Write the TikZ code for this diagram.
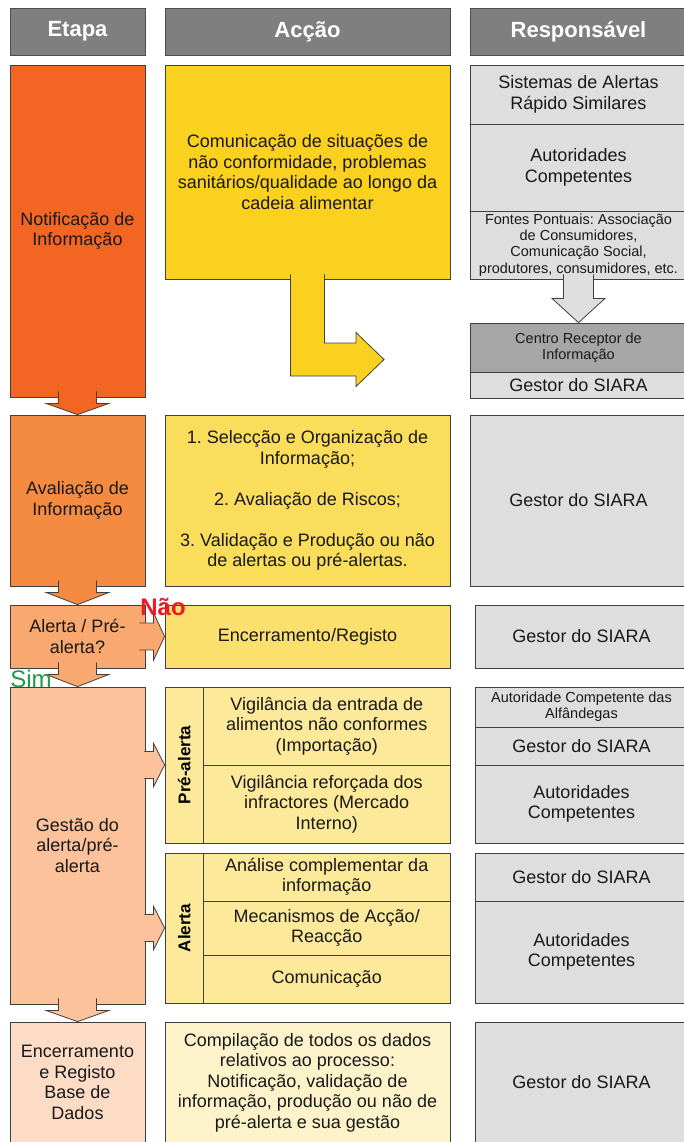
\documentclass[tikz,border=0pt]{standalone}
\usepackage{fontspec}
\setmainfont{Liberation Sans}
\usetikzlibrary{calc}
\frenchspacing

\definecolor{headgray}{HTML}{7F7F7F}
\definecolor{respgray}{HTML}{DEDEDE}
\definecolor{cdark}{HTML}{A6A6A6}
\definecolor{cnotif}{HTML}{F26522}
\definecolor{caval}{HTML}{F58B40}
\definecolor{calerta}{HTML}{F9A870}
\definecolor{cgestao}{HTML}{FBC29B}
\definecolor{cencerr}{HTML}{FDDCC6}
\definecolor{cacc1}{HTML}{FAD11E}
\definecolor{cacc2}{HTML}{FADD5A}
\definecolor{cacc3}{HTML}{FBE06E}
\definecolor{cgrp}{HTML}{FCE99A}
\definecolor{cacc5}{HTML}{FDF3CB}
\definecolor{cnao}{HTML}{ED1C24}
\definecolor{csim}{HTML}{1E9A48}

\begin{document}
\begin{tikzpicture}[x=1pt, y=-1pt,
    cell/.style={draw=black!75, line width=0.8pt, inner sep=2pt, align=center,
        font=\fontsize{18}{20.5}\selectfont\frenchspacing, text=black!90},
    smalltext/.style={font=\fontsize{14.5}{16.3}\selectfont\frenchspacing},
    header/.style={cell, fill=headgray, draw=black!70, text=white,
        font=\fontsize{22}{24}\selectfont\bfseries, minimum height=47pt},
    etapa/.style={cell, minimum width=135pt},
    accao/.style={cell, minimum width=285pt},
    sub/.style={cell, minimum width=246.5pt},
    resp/.style={cell, fill=respgray, minimum width=217pt},
    respb/.style={cell, fill=respgray, minimum width=213pt},
    grouplabel/.style={rotate=90, font=\fontsize{17}{19}\selectfont\bfseries},
    blockarrow/.style={draw=black!75, line width=0.8pt, line join=miter}]

    % Fix the page size
    \useasboundingbox (0,0) rectangle (683,1142);

    % Draw headers
    \node[header, minimum width=135pt] (hetapa) at (77.5,31.5) {Etapa};
    \node[header, minimum width=285pt] (haccao) at (307.5,31.5) {Acção};
    \node[header, minimum width=217pt] (hresp) at (578.5,31.5) {Responsável};

    % Draw stages
    \node[etapa, fill=cnotif, minimum height=332pt] (notif) at (77.5,231) {Notificação de\\Informação};
    \node[etapa, fill=caval, minimum height=171pt] (aval) at (77.5,500.5) {Avaliação de\\Informação};
    \node[etapa, fill=calerta, minimum height=63pt] (alerta) at (77.5,636.5) {Alerta / Pré-\\alerta?};
    \node[etapa, fill=cgestao, minimum height=317pt] (gestao) at (77.5,845.5) {Gestão do\\alerta/pré-\\alerta};
    \node[etapa, fill=cencerr, minimum height=121pt] (encerr) at (77.5,1082.5) {Encerramento\\e Registo\\Base de\\Dados};

    % Draw actions
    \node[accao, fill=cacc1, minimum height=214pt] (acc1) at (307.5,172)
        {Comunicação de situações de\\não conformidade, problemas\\sanitários/qualidade ao longo da\\cadeia alimentar};
    \node[accao, fill=cacc2, minimum height=171pt] (acc2) at (307.5,500.5)
        {1. Selecção e Organização de\\Informação;\\[20.5pt]2. Avaliação de Riscos;\\[20.5pt]3. Validação e Produção ou não\\de alertas ou pré-alertas.};
    \node[accao, fill=cacc3, minimum height=63pt] (acc3) at (307.5,636.5) {Encerramento/Registo};
    \node[accao, fill=cgrp, minimum height=156pt] (pregrp) at (307.5,765) {};
    \node[accao, fill=cgrp, minimum height=150pt] (alegrp) at (307.5,928) {};
    \node[accao, fill=cacc5, minimum height=121pt] (acc5) at (307.5,1082.5)
        {Compilação de todos os dados\\relativos ao processo:\\Notificação, validação de\\informação, produção ou não de\\pré-alerta e sua gestão};

    % Draw pre-alert and alert rows
    \node[sub, minimum height=78pt] (pre1) at (326.75,726) {Vigilância da entrada de\\alimentos não conformes\\(Importação)};
    \node[sub, minimum height=78pt] (pre2) at (326.75,804) {Vigilância reforçada dos\\infractores (Mercado\\Interno)};
    \node[sub, minimum height=48pt] (ale1) at (326.75,877) {Análise complementar da\\informação};
    \node[sub, minimum height=54pt] (ale2) at (326.75,928) {Mecanismos de Acção/\\Reacção};
    \node[sub, minimum height=48pt] (ale3) at (326.75,979) {Comunicação};
    \node[grouplabel] (prelab) at (184.25,765) {Pré-alerta};
    \node[grouplabel] (alelab) at (184.25,928) {Alerta};

    % Draw responsibles
    \node[resp, minimum height=59pt] (sistemas) at (578.5,94.5) {Sistemas de Alertas\\Rápido Similares};
    \node[resp, minimum height=87pt] (autor1) at (578.5,167.5) {Autoridades\\Competentes};
    \node[resp, smalltext, minimum height=68pt] (fontes) at (578.5,245)
        {Fontes Pontuais: Associação\\de Consumidores,\\Comunicação Social,\\produtores, consumidores, etc.};
    \node[resp, smalltext, fill=cdark, minimum height=49pt] (centro) at (578.5,347.5) {Centro Receptor de\\Informação};
    \node[resp, minimum height=26pt] (gestor1) at (578.5,385) {Gestor do SIARA};
    \node[resp, minimum height=171pt] (gestor2) at (578.5,500.5) {Gestor do SIARA};
    \node[respb, minimum height=63pt] (gestor3) at (581.5,636.5) {Gestor do SIARA};
    \node[respb, smalltext, minimum height=40pt] (alfand) at (581.5,707) {Autoridade Competente das\\Alfândegas};
    \node[respb, minimum height=38pt] (gestor4) at (581.5,746) {Gestor do SIARA};
    \node[respb, minimum height=78pt] (autor2) at (581.5,804) {Autoridades\\Competentes};
    \node[respb, minimum height=48pt] (gestor5) at (581.5,877) {Gestor do SIARA};
    \node[respb, minimum height=102pt] (autor3) at (581.5,952) {Autoridades\\Competentes};
    \node[respb, minimum height=121pt] (gestor6) at (581.5,1082.5) {Gestor do SIARA};

    % Draw down arrows between stages
    \foreach \a/\b/\c in {notif/aval/cnotif, aval/alerta/caval, alerta/gestao/calerta, gestao/encerr/cgestao}
        \filldraw[blockarrow, fill=\c] ($(\a.south)+(-19,-6)$) -- ($(\a.south)+(-19,6)$)
            -- ($(\a.south)+(-31.5,6)$) -- (\b.north) -- ($(\a.south)+(31.5,6)$)
            -- ($(\a.south)+(19,6)$) -- ($(\a.south)+(19,-6)$);

    % Draw right arrows
    \coordinate (gpre) at (gestao.east |- pregrp.west);
    \coordinate (gale) at (gestao.east |- alegrp.west);
    \foreach \a/\b/\c/\s/\h in {alerta.east/acc3.west/calerta/-6/24, gpre/pregrp.west/cgestao/-1/22, gale/alegrp.west/cgestao/-1/22}
        \filldraw[blockarrow, fill=\c] ($(\a)+(\s,-13.5)$) -- ($(\a)+(8,-13.5)$) -- ($(\a)+(8,-\h)$)
            -- (\b) -- ($(\a)+(8,\h)$) -- ($(\a)+(8,13.5)$) -- ($(\a)+(\s,13.5)$);

    % Draw arrow to the reception centre
    \filldraw[blockarrow, fill=respgray] ($(fontes.south)+(-15,-5)$) -- ($(fontes.south)+(-15,19)$)
        -- ($(fontes.south)+(-26.5,19)$) -- (centro.north) -- ($(fontes.south)+(26.5,19)$)
        -- ($(fontes.south)+(15,19)$) -- ($(fontes.south)+(15,-5)$);

    % Draw bent arrow
    \coordinate (bendtip) at (384,359.5);
    \filldraw[blockarrow, fill=cacc1] ($(acc1.south)+(-17,-5)$) -- ($(bendtip)+(-93.5,16.5)$)
        -- ($(bendtip)+(-28,16.5)$) -- ($(bendtip)+(-28,27)$) -- (bendtip)
        -- ($(bendtip)+(-28,-27)$) -- ($(bendtip)+(-28,-16.5)$) -- ($(bendtip)+(-59.5,-16.5)$)
        -- ($(acc1.south)+(17,-5)$);

    % Draw decision labels
    \node[anchor=base, text=cnao, font=\fontsize{24}{26}\selectfont\bfseries] (nao) at (163,615) {Não};
    \node[anchor=base, text=csim, font=\fontsize{24}{26}\selectfont] (sim) at (31,687) {Sim};

\end{tikzpicture}
\end{document}
